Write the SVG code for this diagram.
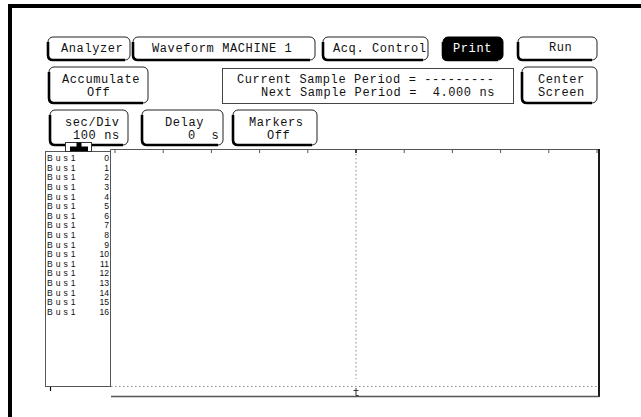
<svg xmlns="http://www.w3.org/2000/svg" width="641" height="417" viewBox="0 0 641 417">
<style>
.btn{fill:#fff;stroke:#222;stroke-width:1}
.sh{fill:none;stroke:#000;stroke-width:2.6}
.t{font-family:"Liberation Mono","DejaVu Sans Mono",monospace;font-size:12px;letter-spacing:0.6px;fill:#111}
.w{fill:#fff}
.bus{font-family:"Liberation Sans",Arial,sans-serif;font-size:8.6px;fill:#111}
.bl{letter-spacing:3px}
.grid{stroke:#555;stroke-width:1;fill:none}
.dot{stroke:#888;stroke-width:1;stroke-dasharray:1.5 2.5;fill:none}
</style>
<rect width="641" height="417" fill="#fff"/>
<g id="frame">
<rect x="8" y="4" width="633" height="4" fill="#000"/>
<rect x="8" y="4" width="4" height="413" fill="#000"/>
</g>
<g id="btn-analyzer">
<rect class="btn" x="48" y="37" width="82" height="23" rx="5"/>
<path class="sh" d="M48,42V55Q48,60 53,60H125"/>
<text class="t" x="61" y="52">Analyzer</text>
</g>
<g id="btn-waveform">
<rect class="btn" x="133" y="37" width="182" height="23" rx="5"/>
<path class="sh" d="M133,42V55Q133,60 138,60H310"/>
<text class="t" x="152" y="52">Waveform MACHINE 1</text>
</g>
<g id="btn-acq">
<rect class="btn" x="323" y="37" width="105" height="23" rx="5"/>
<path class="sh" d="M323,42V55Q323,60 328,60H423"/>
<text class="t" x="333" y="52">Acq. Control</text>
</g>
<g id="btn-print">
<rect x="443" y="37" width="60" height="23" rx="5" fill="#000" stroke="#000"/>
<path class="sh" d="M443,42V55Q443,60 448,60H498"/>
<text class="t w" x="453" y="52">Print</text>
</g>
<g id="btn-run">
<rect class="btn" x="518" y="37" width="79" height="23" rx="5"/>
<path class="sh" d="M518,42V55Q518,60 523,60H592"/>
<text class="t" x="549" y="51">Run</text>
</g>
<g id="btn-accumulate">
<rect class="btn" x="49" y="67" width="99" height="36" rx="5"/>
<path class="sh" d="M49,72V98Q49,103 54,103H143"/>
<text class="t" x="62" y="83">Accumulate</text>
<text class="t" x="87" y="96">Off</text>
</g>
<g id="info">
<rect x="222.5" y="68.5" width="291" height="35" fill="#fff" stroke="#444" stroke-width="1"/>
<text class="t" x="237" y="83" xml:space="preserve">Current Sample Period = ---------</text>
<text class="t" x="261" y="96" xml:space="preserve">Next Sample Period =  4.000 ns</text>
</g>
<g id="btn-center">
<rect class="btn" x="522" y="67" width="75" height="36" rx="5"/>
<path class="sh" d="M522,72V98Q522,103 527,103H592"/>
<text class="t" x="538" y="83">Center</text>
<text class="t" x="538" y="96">Screen</text>
</g>
<g id="btn-secdiv">
<rect class="btn" x="50" y="110" width="78" height="35" rx="5"/>
<path class="sh" d="M50,115V140Q50,145 55,145H123"/>
<text class="t" x="65" y="126">sec/Div</text>
<text class="t" x="73" y="139">100 ns</text>
</g>
<g id="btn-delay">
<rect class="btn" x="142" y="110" width="81" height="35" rx="5"/>
<path class="sh" d="M142,115V140Q142,145 147,145H218"/>
<text class="t" x="165" y="126">Delay</text>
<text class="t" x="188" y="139" xml:space="preserve">0  s</text>
</g>
<g id="btn-markers">
<rect class="btn" x="233" y="110" width="84" height="35" rx="5"/>
<path class="sh" d="M233,115V140Q233,145 238,145H312"/>
<text class="t" x="249" y="126">Markers</text>
<text class="t" x="267" y="139">Off</text>
</g>
<g id="labels">
<rect x="45.5" y="151.5" width="65" height="235" fill="#fff" stroke="#555" stroke-width="1"/>
<g class="bus">
<text class="bl" x="47" y="161">Bus1</text><text x="109" y="161" text-anchor="end">0</text>
<text class="bl" x="47" y="170.6">Bus1</text><text x="109" y="170.6" text-anchor="end">1</text>
<text class="bl" x="47" y="180.2">Bus1</text><text x="109" y="180.2" text-anchor="end">2</text>
<text class="bl" x="47" y="189.9">Bus1</text><text x="109" y="189.9" text-anchor="end">3</text>
<text class="bl" x="47" y="199.5">Bus1</text><text x="109" y="199.5" text-anchor="end">4</text>
<text class="bl" x="47" y="209.1">Bus1</text><text x="109" y="209.1" text-anchor="end">5</text>
<text class="bl" x="47" y="218.7">Bus1</text><text x="109" y="218.7" text-anchor="end">6</text>
<text class="bl" x="47" y="228.3">Bus1</text><text x="109" y="228.3" text-anchor="end">7</text>
<text class="bl" x="47" y="238">Bus1</text><text x="109" y="238" text-anchor="end">8</text>
<text class="bl" x="47" y="247.6">Bus1</text><text x="109" y="247.6" text-anchor="end">9</text>
<text class="bl" x="47" y="257.2">Bus1</text><text x="109" y="257.2" text-anchor="end">10</text>
<text class="bl" x="47" y="266.8">Bus1</text><text x="109" y="266.8" text-anchor="end">11</text>
<text class="bl" x="47" y="276.4">Bus1</text><text x="109" y="276.4" text-anchor="end">12</text>
<text class="bl" x="47" y="286.1">Bus1</text><text x="109" y="286.1" text-anchor="end">13</text>
<text class="bl" x="47" y="295.7">Bus1</text><text x="109" y="295.7" text-anchor="end">14</text>
<text class="bl" x="47" y="305.3">Bus1</text><text x="109" y="305.3" text-anchor="end">15</text>
<text class="bl" x="47" y="315">Bus1</text><text x="109" y="315" text-anchor="end">16</text>
</g>
<line x1="50.5" y1="387" x2="50.5" y2="391" stroke="#000" stroke-width="1.2"/>
</g>
<g id="cursor-tab">
<rect x="65.5" y="142.5" width="26" height="9" fill="#fff" stroke="#333" stroke-width="1"/>
<rect x="76.5" y="142.5" width="5" height="4.5" fill="#000"/>
<rect x="70" y="146.5" width="18" height="4.5" fill="#000"/>
</g>
<g id="waveform">
<path class="grid" d="M110.5,149.5H599M110.5,149.5V386.5"/>
<path class="grid" d="M115,149.5V153M163.2,149.5V153M211.4,149.5V153M259.6,149.5V153M307.8,149.5V153M404.2,149.5V153M452.4,149.5V153M500.6,149.5V153M548.8,149.5V153M597,149.5V153"/>
<path d="M356,149.5V153" stroke="#000" stroke-width="1.5"/>
<path class="dot" d="M356,154V379"/>
<path class="dot" d="M111,386.5H598"/>
<path d="M599,149V397" stroke="#000" stroke-width="1.8"/>
<path d="M111,396.5H599" stroke="#555" stroke-width="1.6"/>
<path d="M356,388V395.5H358.5M353.5,390.5H358.5" fill="none" stroke="#333" stroke-width="1"/>
</g>
</svg>
